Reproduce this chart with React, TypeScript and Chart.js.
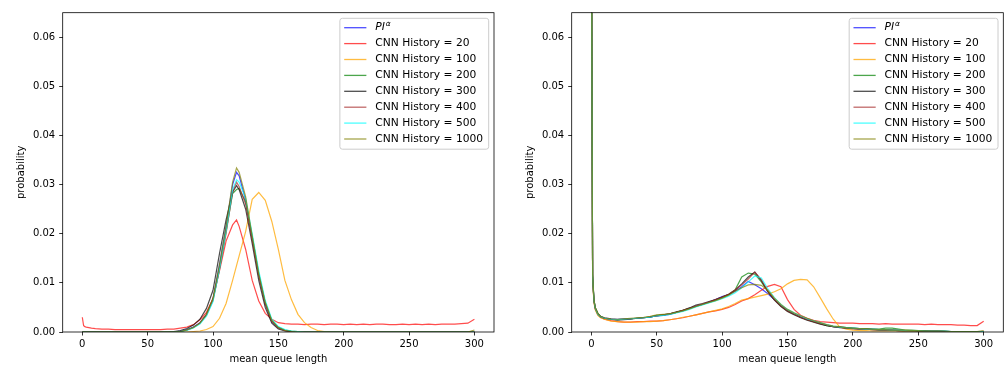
import React, { useEffect, useRef } from 'react';
import { Chart, registerables } from 'chart.js';

Chart.register(...registerables);

const FONT = '"DejaVu Sans", sans-serif';
const LEGEND_SIZE = 10.7;

const LABELS = [
  'PI^α',
  'CNN History = 20',
  'CNN History = 100',
  'CNN History = 200',
  'CNN History = 300',
  'CNN History = 400',
  'CNN History = 500',
  'CNN History = 1000',
];

const COLORS = [
  'rgba(0,0,255,0.7)',
  'rgba(255,0,0,0.7)',
  'rgba(255,165,0,0.75)',
  'rgba(0,128,0,0.7)',
  'rgba(0,0,0,0.7)',
  'rgba(165,42,42,0.7)',
  'rgba(0,255,255,0.7)',
  'rgba(128,128,0,0.7)',
];

const X_TICKS = [0, 50, 100, 150, 200, 250, 300];
const Y_TICKS = [0, 0.01, 0.02, 0.03, 0.04, 0.05, 0.06];
const X_MIN = -15;
const X_MAX = 315;
const Y_MIN = 0;
const Y_MAX = 0.065;

// ---------- left panel ----------
const X_LEFT = [
  0, 1, 2, 3, 5, 7,
  10, 15, 20, 25, 30, 35, 40, 45, 50, 55, 60, 65, 70,
  75, 80, 85, 90, 95, 100, 105, 110, 115, 118,
  120, 125, 130, 135, 140, 145, 150, 155, 160, 165,
  170, 175, 180, 185, 190, 195, 200, 205, 210, 215,
  220, 225, 230, 235, 240, 245, 250, 255, 260, 265,
  270, 275, 280, 285, 290, 295, 300,
];

const L_PI = [
  0, 0, 0, 0, 0, 0,
  0, 0, 0, 0, 0, 0, 0, 0, 0, 0, 0, 0, 0,
  0.0002, 0.0005, 0.001, 0.0019, 0.0036, 0.0068, 0.0138, 0.0215, 0.03, 0.0325,
  0.0318, 0.0268, 0.019, 0.0115, 0.0057, 0.0021, 0.0008, 0.0003, 0.0001, 0,
  0, 0, 0, 0, 0, 0, 0, 0, 0, 0,
  0, 0, 0, 0, 0, 0, 0, 0, 0, 0,
  0, 0, 0, 0, 0, 0, 0,
];
const L_20 = [
  0.003, 0.0013, 0.0011, 0.001, 0.0009, 0.0008,
  0.0007, 0.0006, 0.0006, 0.0005, 0.0005, 0.0005, 0.0005, 0.0005, 0.0005, 0.0005, 0.0005, 0.0006, 0.0006,
  0.0008, 0.001, 0.0015, 0.0025, 0.004, 0.0068, 0.0125, 0.0185, 0.0218, 0.0228,
  0.0215, 0.0168, 0.0105, 0.0063, 0.0038, 0.0026, 0.0019, 0.0017, 0.0016, 0.0016,
  0.0015, 0.0016, 0.0016, 0.0015, 0.0016, 0.0016, 0.0015, 0.0016, 0.0015, 0.0016,
  0.0015, 0.0016, 0.0016, 0.0015, 0.0015, 0.0016, 0.0015, 0.0016, 0.0015, 0.0016,
  0.0015, 0.0016, 0.0016, 0.0016, 0.0017, 0.0018, 0.0026,
];
const L_100 = [
  0, 0, 0, 0, 0, 0,
  0, 0, 0, 0, 0, 0, 0, 0, 0, 0, 0, 0, 0,
  0, 0, 0.0001, 0.0002, 0.0005, 0.0011, 0.0028, 0.0058, 0.0105, 0.0135,
  0.0155, 0.0205, 0.027, 0.0284, 0.0268, 0.0225, 0.0168, 0.0105, 0.0066, 0.0036,
  0.0019, 0.0009, 0.0003, 0.0001, 0, 0, 0, 0, 0, 0,
  0, 0, 0, 0, 0, 0, 0, 0, 0, 0,
  0, 0, 0, 0, 0, 0, 0,
];
const L_200 = [
  0, 0, 0, 0, 0, 0,
  0, 0, 0, 0, 0, 0, 0, 0, 0, 0, 0, 0, 0,
  0.0001, 0.0004, 0.0009, 0.0018, 0.0035, 0.0066, 0.013, 0.0205, 0.0282, 0.029,
  0.0292, 0.0265, 0.0195, 0.012, 0.006, 0.0024, 0.001, 0.0004, 0.0002, 0.0001,
  0, 0, 0, 0, 0, 0, 0, 0, 0, 0,
  0, 0, 0, 0, 0, 0, 0, 0, 0, 0,
  0, 0, 0, 0, 0, 0, 0,
];
const L_300 = [
  0, 0, 0, 0, 0, 0,
  0, 0, 0, 0, 0, 0, 0, 0, 0, 0, 0, 0, 0.0001,
  0.0003, 0.0007, 0.0014, 0.0026, 0.0048, 0.0085, 0.016, 0.0228, 0.0285, 0.0298,
  0.029, 0.025, 0.018, 0.0105, 0.005, 0.0018, 0.0006, 0.0002, 0.0001, 0,
  0, 0, 0, 0, 0, 0, 0, 0, 0, 0,
  0, 0, 0, 0, 0, 0, 0, 0, 0, 0,
  0, 0, 0, 0, 0, 0, 0,
];
const L_400 = [
  0, 0, 0, 0, 0, 0,
  0, 0, 0, 0, 0, 0, 0, 0, 0, 0, 0, 0, 0,
  0.0001, 0.0004, 0.0009, 0.0018, 0.0034, 0.0064, 0.0128, 0.02, 0.0285, 0.0305,
  0.0296, 0.026, 0.0188, 0.0115, 0.0058, 0.0022, 0.0008, 0.0003, 0.0001, 0,
  0, 0, 0, 0, 0, 0, 0, 0, 0, 0,
  0, 0, 0, 0, 0, 0, 0, 0, 0, 0,
  0, 0, 0, 0, 0, 0, 0,
];
const L_500 = [
  0, 0, 0, 0, 0, 0,
  0, 0, 0, 0, 0, 0, 0, 0, 0, 0, 0, 0, 0,
  0.0001, 0.0003, 0.0008, 0.0016, 0.0032, 0.0062, 0.0128, 0.0205, 0.029, 0.031,
  0.0305, 0.0272, 0.02, 0.0125, 0.0064, 0.0026, 0.0011, 0.0005, 0.0002, 0.0001,
  0, 0, 0, 0, 0, 0, 0, 0, 0, 0,
  0, 0, 0, 0, 0, 0, 0, 0, 0, 0,
  0, 0, 0, 0, 0, 0, 0,
];
const L_1000 = [
  0, 0, 0, 0, 0, 0,
  0, 0, 0, 0, 0, 0, 0, 0, 0, 0, 0, 0, 0,
  0.0001, 0.0004, 0.0009, 0.0018, 0.0036, 0.0068, 0.0138, 0.0215, 0.0305, 0.0334,
  0.0325, 0.0275, 0.0195, 0.0118, 0.006, 0.0023, 0.0009, 0.0003, 0.0001, 0,
  0, 0, 0, 0, 0, 0, 0, 0, 0, 0,
  0, 0, 0, 0, 0, 0, 0, 0, 0, 0,
  0, 0, 0, 0, 0, 0, 0.0004,
];

// ---------- right panel ----------
const X_RIGHT = [
  0, 1, 2, 3, 5, 7,
  10, 15, 20, 25, 30, 35, 40, 45, 50, 55, 60, 65, 70,
  75, 80, 85, 90, 95, 100, 105, 110, 115, 120,
  125, 130, 135, 140, 145, 150, 155, 160, 165, 170,
  175, 180, 185, 190, 195, 200, 205, 210, 215, 220,
  225, 230, 235, 240, 245, 250, 255, 260, 265, 270,
  275, 280, 285, 290, 295, 300,
];

const R_PI = [
  0.09, 0.0115, 0.0065, 0.0049, 0.0037, 0.0032,
  0.0029, 0.0027, 0.0026, 0.0027, 0.0027, 0.0028, 0.0029, 0.003, 0.0033, 0.0034, 0.0036, 0.004, 0.0043,
  0.0048, 0.0053, 0.0056, 0.0061, 0.0066, 0.0072, 0.0076, 0.0083, 0.0092, 0.0103,
  0.0096, 0.0088, 0.0078, 0.0066, 0.0054, 0.0044, 0.0037, 0.0031, 0.0026, 0.0022,
  0.0018, 0.0014, 0.0011, 0.001, 0.0009, 0.0008, 0.0007, 0.0006, 0.0006, 0.0005,
  0.0005, 0.0004, 0.0004, 0.0003, 0.0003, 0.0003, 0.0002, 0.0002, 0.0002, 0.0002,
  0.0001, 0.0001, 0.0001, 0.0001, 0.0001, 0.0001,
];
const R_20 = [
  0.09, 0.0108, 0.0062, 0.0046, 0.0035, 0.003,
  0.0026, 0.0023, 0.0021, 0.002, 0.002, 0.0021, 0.0021, 0.0022, 0.0022, 0.0023, 0.0025, 0.0027, 0.0029,
  0.0032, 0.0035, 0.0038, 0.0041, 0.0043, 0.0046, 0.005, 0.0056, 0.0063, 0.0068,
  0.0076, 0.0085, 0.0093, 0.0097, 0.0092, 0.0066, 0.0046, 0.0034, 0.0028, 0.0024,
  0.0021, 0.002, 0.0019, 0.0018, 0.0018, 0.0018, 0.0017, 0.0017, 0.0017, 0.0016,
  0.0017, 0.0016, 0.0016, 0.0016, 0.0016, 0.0016, 0.0015, 0.0016, 0.0015, 0.0015,
  0.0015, 0.0014, 0.0014, 0.0013, 0.0013, 0.0022,
];
const R_100 = [
  0.09, 0.0105, 0.006, 0.0045, 0.0034, 0.0029,
  0.0026, 0.0022, 0.0021, 0.002, 0.002, 0.002, 0.0021, 0.0021, 0.0022, 0.0023, 0.0025, 0.0027, 0.003,
  0.0032, 0.0035, 0.0038, 0.0041, 0.0044, 0.0047, 0.0052, 0.0058, 0.0065, 0.0068,
  0.0071, 0.0074, 0.0077, 0.0082, 0.0088, 0.0098, 0.0105, 0.0107, 0.0106, 0.0092,
  0.007, 0.0047, 0.0026, 0.001, 0.0006, 0.0004, 0.0003, 0.0003, 0.0002, 0.0002,
  0.0002, 0.0002, 0.0002, 0.0001, 0.0001, 0.0001, 0.0001, 0.0001, 0.0001, 0.0001,
  0.0001, 0.0001, 0.0001, 0.0001, 0.0001, 0.0001,
];
const R_200 = [
  0.09, 0.0118, 0.0066, 0.005, 0.0038, 0.0032,
  0.0028, 0.0026, 0.0025, 0.0026, 0.0027, 0.0028, 0.0029, 0.0031, 0.0034, 0.0035, 0.0037, 0.004, 0.0044,
  0.0048, 0.0052, 0.0056, 0.006, 0.0065, 0.007, 0.0076, 0.0086, 0.0112, 0.012,
  0.0118, 0.0102, 0.0082, 0.0066, 0.0053, 0.0043, 0.0036, 0.003, 0.0025, 0.0021,
  0.0017, 0.0013, 0.0011, 0.001, 0.0009, 0.0008, 0.0007, 0.0007, 0.0006, 0.0006,
  0.0008, 0.0008, 0.0006, 0.0004, 0.0004, 0.0003, 0.0003, 0.0002, 0.0002, 0.0002,
  0.0001, 0.0001, 0.0001, 0.0001, 0.0001, 0.0001,
];
const R_300 = [
  0.09, 0.0112, 0.0064, 0.0048, 0.0037, 0.0031,
  0.0028, 0.0026, 0.0024, 0.0025, 0.0026, 0.0028, 0.0029, 0.003, 0.0033, 0.0035, 0.0037, 0.0041, 0.0044,
  0.0049, 0.0055, 0.0058, 0.0062, 0.0066, 0.0071, 0.0077, 0.0085, 0.0098, 0.0112,
  0.0122, 0.0105, 0.0082, 0.0065, 0.0052, 0.0042, 0.0035, 0.0029, 0.0024, 0.002,
  0.0016, 0.0013, 0.0011, 0.0009, 0.0008, 0.0007, 0.0006, 0.0006, 0.0005, 0.0004,
  0.0004, 0.0004, 0.0003, 0.0003, 0.0003, 0.0002, 0.0002, 0.0002, 0.0002, 0.0001,
  0.0001, 0.0001, 0.0001, 0.0001, 0.0001, 0.0001,
];
const R_400 = [
  0.09, 0.0114, 0.0065, 0.0049, 0.0037, 0.0031,
  0.0028, 0.0026, 0.0025, 0.0026, 0.0027, 0.0028, 0.0029, 0.0031, 0.0033, 0.0035, 0.0037, 0.004, 0.0044,
  0.0048, 0.0053, 0.0057, 0.0061, 0.0066, 0.0071, 0.0077, 0.0086, 0.0096, 0.0108,
  0.0122, 0.0106, 0.0083, 0.0066, 0.0053, 0.0043, 0.0036, 0.003, 0.0025, 0.0021,
  0.0017, 0.0014, 0.0011, 0.001, 0.0008, 0.0007, 0.0006, 0.0006, 0.0005, 0.0005,
  0.0004, 0.0004, 0.0003, 0.0003, 0.0003, 0.0002, 0.0002, 0.0002, 0.0002, 0.0001,
  0.0001, 0.0001, 0.0001, 0.0001, 0.0001, 0.0001,
];
const R_500 = [
  0.09, 0.0113, 0.0064, 0.0048, 0.0036, 0.0031,
  0.0028, 0.0026, 0.0025, 0.0026, 0.0027, 0.0028, 0.0029, 0.003, 0.0033, 0.0034, 0.0036, 0.0039, 0.0042,
  0.0046, 0.0051, 0.0055, 0.0059, 0.0063, 0.0068, 0.0073, 0.008, 0.009, 0.0102,
  0.0114, 0.011, 0.0088, 0.007, 0.0056, 0.0046, 0.0039, 0.0033, 0.0027, 0.0023,
  0.0019, 0.0015, 0.0012, 0.001, 0.0009, 0.0008, 0.0007, 0.0006, 0.0006, 0.0005,
  0.0005, 0.0004, 0.0004, 0.0003, 0.0003, 0.0003, 0.0002, 0.0002, 0.0002, 0.0002,
  0.0001, 0.0001, 0.0001, 0.0001, 0.0001, 0.0001,
];
const R_1000 = [
  0.09, 0.0116, 0.0066, 0.005, 0.0038, 0.0032,
  0.0029, 0.0027, 0.0026, 0.0027, 0.0028, 0.0029, 0.003, 0.0032, 0.0035, 0.0036, 0.0037, 0.004, 0.0043,
  0.0047, 0.0052, 0.0056, 0.006, 0.0064, 0.0069, 0.0075, 0.0083, 0.009, 0.0096,
  0.0097, 0.0095, 0.0085, 0.0069, 0.0056, 0.0046, 0.0039, 0.0033, 0.0028, 0.0023,
  0.0019, 0.0015, 0.0012, 0.0011, 0.0009, 0.0008, 0.0007, 0.0007, 0.0006, 0.0005,
  0.0005, 0.0004, 0.0004, 0.0004, 0.0003, 0.0003, 0.0002, 0.0002, 0.0002, 0.0002,
  0.0001, 0.0001, 0.0001, 0.0001, 0.0001, 0.0003,
];

const LEFT_SERIES = [L_PI, L_20, L_100, L_200, L_300, L_400, L_500, L_1000];
const RIGHT_SERIES = [R_PI, R_20, R_100, R_200, R_300, R_400, R_500, R_1000];

const frameLegendPlugin = {
  id: 'frameLegend',
  afterDraw(chart: any) {
    const { ctx, chartArea: a } = chart;
    ctx.save();
    // spines
    ctx.lineWidth = 0.8;
    ctx.strokeStyle = '#000';
    ctx.strokeRect(a.left, a.top, a.right - a.left, a.bottom - a.top);

    // legend
    const dss = chart.data.datasets;
    const supSize = LEGEND_SIZE * 0.7;
    const measure = (label: string) => {
      if (label.includes('^')) {
        const [b, s] = label.split('^');
        ctx.font = `italic ${LEGEND_SIZE}px ${FONT}`;
        const w1 = ctx.measureText(b).width;
        ctx.font = `italic ${supSize}px ${FONT}`;
        return w1 + ctx.measureText(s).width + 1;
      }
      ctx.font = `${LEGEND_SIZE}px ${FONT}`;
      return ctx.measureText(label).width;
    };
    let maxW = 0;
    dss.forEach((d: any) => {
      maxW = Math.max(maxW, measure(d.label));
    });
    const rowH = 15.9;
    const boxW = 35.4 + maxW + 5.6;
    const boxH = rowH * (dss.length - 1) + 19.6;
    const bx = a.right - 5.3 - boxW;
    const by = a.top + 5.6;
    ctx.beginPath();
    if (ctx.roundRect) ctx.roundRect(bx, by, boxW, boxH, 2.5);
    else ctx.rect(bx, by, boxW, boxH);
    ctx.fillStyle = 'rgba(255,255,255,0.8)';
    ctx.fill();
    ctx.strokeStyle = '#cccccc';
    ctx.lineWidth = 1;
    ctx.stroke();

    dss.forEach((d: any, i: number) => {
      const y = by + 9.4 + i * rowH;
      ctx.beginPath();
      ctx.moveTo(bx + 4.3, y);
      ctx.lineTo(bx + 26.5, y);
      ctx.strokeStyle = d.borderColor;
      ctx.lineWidth = 1.3;
      ctx.stroke();
      ctx.fillStyle = '#000';
      ctx.textBaseline = 'middle';
      ctx.textAlign = 'left';
      const tx = bx + 35.4;
      const label: string = d.label;
      if (label.includes('^')) {
        const [b, s] = label.split('^');
        ctx.font = `italic ${LEGEND_SIZE}px ${FONT}`;
        ctx.fillText(b, tx, y);
        const w1 = ctx.measureText(b).width;
        ctx.font = `italic ${supSize}px ${FONT}`;
        ctx.fillText(s, tx + w1 + 0.8, y - 4);
      } else {
        ctx.font = `${LEGEND_SIZE}px ${FONT}`;
        ctx.fillText(label, tx, y);
      }
    });
    ctx.restore();
  },
};

type PanelProps = {
  xs: number[];
  series: number[][];
  left: number;
  width: number;
  axisW: number;
  padRight: number;
  titlePad: number;
};

function Panel({ xs, series, left, width, axisW, padRight, titlePad }: PanelProps) {
  const ref = useRef<HTMLCanvasElement>(null);
  useEffect(() => {
    if (!ref.current) return;
    const tickFont = { family: FONT, size: 10 };
    const chart = new Chart(ref.current, {
      type: 'line',
      data: {
        datasets: series.map((ys, i) => ({
          label: LABELS[i],
          data: xs.map((x, j) => ({ x, y: ys[j] })),
          borderColor: COLORS[i],
          backgroundColor: COLORS[i],
          borderWidth: 1.2,
          pointRadius: 0,
          fill: false,
          tension: 0,
          order: series.length - i,
        })),
      },
      options: {
        animation: false,
        responsive: false,
        devicePixelRatio: 1,
        layout: { padding: { left: 0, right: padRight, top: 12.7, bottom: 0 } },
        plugins: { legend: { display: false }, tooltip: { enabled: false } },
        scales: {
          x: {
            type: 'linear',
            min: X_MIN,
            max: X_MAX,
            afterBuildTicks: (s: any) => {
              s.ticks = X_TICKS.map((v) => ({ value: v }));
            },
            afterFit: (s: any) => {
              s.height = 35;
            },
            grid: {
              display: true,
              drawOnChartArea: false,
              drawTicks: true,
              tickLength: 3.5,
              color: '#000',
              lineWidth: 0.8,
            },
            border: { display: false },
            ticks: {
              font: tickFont,
              color: '#000',
              padding: 2.5,
              maxRotation: 0,
              autoSkip: false,
              callback: (v: any) => String(v),
            },
            title: {
              display: true,
              text: 'mean queue length',
              font: { family: FONT, size: 10, lineHeight: 1.2 },
              color: '#000',
              padding: { top: 0, bottom: 1.6 },
            },
          },
          y: {
            type: 'linear',
            min: Y_MIN,
            max: Y_MAX,
            afterBuildTicks: (s: any) => {
              s.ticks = Y_TICKS.map((v) => ({ value: v }));
            },
            afterFit: (s: any) => {
              s.width = axisW;
            },
            grid: {
              display: true,
              drawOnChartArea: false,
              drawTicks: true,
              tickLength: 3.5,
              color: '#000',
              lineWidth: 0.8,
            },
            border: { display: false },
            ticks: {
              font: tickFont,
              color: '#000',
              padding: 4,
              autoSkip: false,
              callback: (v: any) => Number(v).toFixed(2),
            },
            title: {
              display: true,
              text: 'probability',
              font: { family: FONT, size: 10, lineHeight: 1.2 },
              color: '#000',
              padding: { top: titlePad, bottom: 0 },
            },
          },
        },
      } as any,
      plugins: [frameLegendPlugin],
    });
    return () => chart.destroy();
  }, []);
  return (
    <canvas
      ref={ref}
      width={width}
      height={367}
      style={{ position: 'absolute', left, top: 0, width, height: 367 }}
    />
  );
}

export default function App() {
  return (
    <div
      style={{
        position: 'fixed',
        left: 0,
        top: 0,
        width: 1005,
        height: 367,
        background: '#fff',
        overflow: 'hidden',
      }}
    >
      <Panel xs={X_LEFT} series={LEFT_SERIES} left={0} width={500} axisW={62.7} padRight={6} titlePad={15.7} />
      <Panel xs={X_RIGHT} series={RIGHT_SERIES} left={500} width={505} axisW={71.7} padRight={1.7} titlePad={24} />
    </div>
  );
}
